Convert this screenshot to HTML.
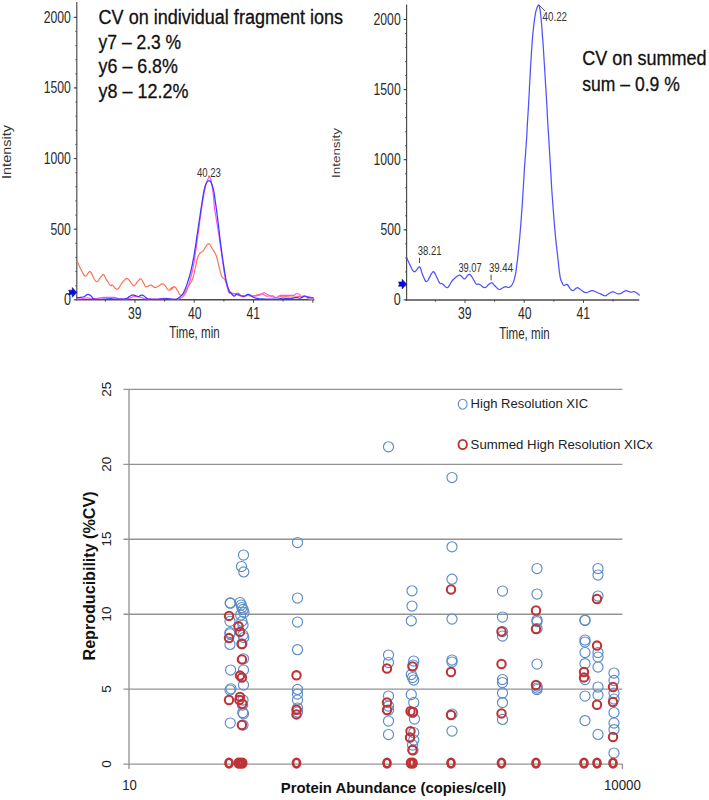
<!DOCTYPE html>
<html><head><meta charset="utf-8"><title>Chart</title>
<style>html,body{margin:0;padding:0;background:#fff;}body{width:709px;height:800px;overflow:hidden;font-family:"Liberation Sans",sans-serif;}svg{display:block;}</style>
</head><body>
<svg width="709" height="800" viewBox="0 0 709 800" font-family="Liberation Sans, sans-serif">
<rect width="709" height="800" fill="#fff"/>
<line x1="76.8" y1="2" x2="76.8" y2="300.6" stroke="#484848" stroke-width="1.15"/>
<line x1="76.3" y1="299.8" x2="314.3" y2="299.8" stroke="#4c4c4c" stroke-width="1.5"/>
<line x1="73.8" y1="299.8" x2="76.8" y2="299.8" stroke="#3a3a3a" stroke-width="1"/>
<text x="70.89999999999999" y="305.3" font-size="15.6" text-anchor="end" font-weight="normal" fill="#2a2a2a" textLength="7.0" lengthAdjust="spacingAndGlyphs" >0</text>
<line x1="73.8" y1="229.2" x2="76.8" y2="229.2" stroke="#3a3a3a" stroke-width="1"/>
<text x="70.89999999999999" y="234.7" font-size="15.6" text-anchor="end" font-weight="normal" fill="#2a2a2a" textLength="20.3" lengthAdjust="spacingAndGlyphs" >500</text>
<line x1="73.8" y1="158.6" x2="76.8" y2="158.6" stroke="#3a3a3a" stroke-width="1"/>
<text x="70.89999999999999" y="164.1" font-size="15.6" text-anchor="end" font-weight="normal" fill="#2a2a2a" textLength="27.2" lengthAdjust="spacingAndGlyphs" >1000</text>
<line x1="73.8" y1="87.9" x2="76.8" y2="87.9" stroke="#3a3a3a" stroke-width="1"/>
<text x="70.89999999999999" y="93.4" font-size="15.6" text-anchor="end" font-weight="normal" fill="#2a2a2a" textLength="27.2" lengthAdjust="spacingAndGlyphs" >1500</text>
<line x1="73.8" y1="17.3" x2="76.8" y2="17.3" stroke="#3a3a3a" stroke-width="1"/>
<text x="70.89999999999999" y="22.8" font-size="15.6" text-anchor="end" font-weight="normal" fill="#2a2a2a" textLength="27.2" lengthAdjust="spacingAndGlyphs" >2000</text>
<line x1="75.3" y1="299.8" x2="76.8" y2="299.8" stroke="#3a3a3a" stroke-width="0.8"/>
<line x1="75.3" y1="285.7" x2="76.8" y2="285.7" stroke="#3a3a3a" stroke-width="0.8"/>
<line x1="75.3" y1="271.6" x2="76.8" y2="271.6" stroke="#3a3a3a" stroke-width="0.8"/>
<line x1="75.3" y1="257.4" x2="76.8" y2="257.4" stroke="#3a3a3a" stroke-width="0.8"/>
<line x1="75.3" y1="243.3" x2="76.8" y2="243.3" stroke="#3a3a3a" stroke-width="0.8"/>
<line x1="75.3" y1="229.2" x2="76.8" y2="229.2" stroke="#3a3a3a" stroke-width="0.8"/>
<line x1="75.3" y1="215.1" x2="76.8" y2="215.1" stroke="#3a3a3a" stroke-width="0.8"/>
<line x1="75.3" y1="200.9" x2="76.8" y2="200.9" stroke="#3a3a3a" stroke-width="0.8"/>
<line x1="75.3" y1="186.8" x2="76.8" y2="186.8" stroke="#3a3a3a" stroke-width="0.8"/>
<line x1="75.3" y1="172.7" x2="76.8" y2="172.7" stroke="#3a3a3a" stroke-width="0.8"/>
<line x1="75.3" y1="158.6" x2="76.8" y2="158.6" stroke="#3a3a3a" stroke-width="0.8"/>
<line x1="75.3" y1="144.4" x2="76.8" y2="144.4" stroke="#3a3a3a" stroke-width="0.8"/>
<line x1="75.3" y1="130.3" x2="76.8" y2="130.3" stroke="#3a3a3a" stroke-width="0.8"/>
<line x1="75.3" y1="116.2" x2="76.8" y2="116.2" stroke="#3a3a3a" stroke-width="0.8"/>
<line x1="75.3" y1="102.1" x2="76.8" y2="102.1" stroke="#3a3a3a" stroke-width="0.8"/>
<line x1="75.3" y1="87.9" x2="76.8" y2="87.9" stroke="#3a3a3a" stroke-width="0.8"/>
<line x1="75.3" y1="73.8" x2="76.8" y2="73.8" stroke="#3a3a3a" stroke-width="0.8"/>
<line x1="75.3" y1="59.7" x2="76.8" y2="59.7" stroke="#3a3a3a" stroke-width="0.8"/>
<line x1="75.3" y1="45.6" x2="76.8" y2="45.6" stroke="#3a3a3a" stroke-width="0.8"/>
<line x1="75.3" y1="31.4" x2="76.8" y2="31.4" stroke="#3a3a3a" stroke-width="0.8"/>
<line x1="75.3" y1="17.3" x2="76.8" y2="17.3" stroke="#3a3a3a" stroke-width="0.8"/>
<line x1="105.4" y1="299.8" x2="105.4" y2="301.6" stroke="#3a3a3a" stroke-width="0.9"/>
<line x1="135.0" y1="299.8" x2="135.0" y2="302.8" stroke="#3a3a3a" stroke-width="0.9"/>
<line x1="164.6" y1="299.8" x2="164.6" y2="301.6" stroke="#3a3a3a" stroke-width="0.9"/>
<line x1="194.2" y1="299.8" x2="194.2" y2="302.8" stroke="#3a3a3a" stroke-width="0.9"/>
<line x1="223.9" y1="299.8" x2="223.9" y2="301.6" stroke="#3a3a3a" stroke-width="0.9"/>
<line x1="253.5" y1="299.8" x2="253.5" y2="302.8" stroke="#3a3a3a" stroke-width="0.9"/>
<line x1="283.1" y1="299.8" x2="283.1" y2="301.6" stroke="#3a3a3a" stroke-width="0.9"/>
<line x1="312.8" y1="299.8" x2="312.8" y2="302.8" stroke="#3a3a3a" stroke-width="0.9"/>
<text x="134.8" y="318.5" font-size="16" text-anchor="middle" font-weight="normal" fill="#2a2a2a" textLength="13.6" lengthAdjust="spacingAndGlyphs" >39</text>
<text x="194.8" y="318.5" font-size="16" text-anchor="middle" font-weight="normal" fill="#2a2a2a" textLength="13.6" lengthAdjust="spacingAndGlyphs" >40</text>
<text x="253.3" y="318.5" font-size="16" text-anchor="middle" font-weight="normal" fill="#2a2a2a" textLength="13.6" lengthAdjust="spacingAndGlyphs" >41</text>
<line x1="406.6" y1="4.5" x2="406.6" y2="300.7" stroke="#484848" stroke-width="1.15"/>
<line x1="406.1" y1="299.9" x2="639.3" y2="299.9" stroke="#4c4c4c" stroke-width="1.5"/>
<line x1="403.6" y1="299.9" x2="406.6" y2="299.9" stroke="#3a3a3a" stroke-width="1"/>
<text x="400.70000000000005" y="305.4" font-size="15.6" text-anchor="end" font-weight="normal" fill="#2a2a2a" textLength="7.0" lengthAdjust="spacingAndGlyphs" >0</text>
<line x1="403.6" y1="229.8" x2="406.6" y2="229.8" stroke="#3a3a3a" stroke-width="1"/>
<text x="400.70000000000005" y="235.3" font-size="15.6" text-anchor="end" font-weight="normal" fill="#2a2a2a" textLength="20.3" lengthAdjust="spacingAndGlyphs" >500</text>
<line x1="403.6" y1="159.7" x2="406.6" y2="159.7" stroke="#3a3a3a" stroke-width="1"/>
<text x="400.70000000000005" y="165.2" font-size="15.6" text-anchor="end" font-weight="normal" fill="#2a2a2a" textLength="27.2" lengthAdjust="spacingAndGlyphs" >1000</text>
<line x1="403.6" y1="89.6" x2="406.6" y2="89.6" stroke="#3a3a3a" stroke-width="1"/>
<text x="400.70000000000005" y="95.1" font-size="15.6" text-anchor="end" font-weight="normal" fill="#2a2a2a" textLength="27.2" lengthAdjust="spacingAndGlyphs" >1500</text>
<line x1="403.6" y1="19.5" x2="406.6" y2="19.5" stroke="#3a3a3a" stroke-width="1"/>
<text x="400.70000000000005" y="25.0" font-size="15.6" text-anchor="end" font-weight="normal" fill="#2a2a2a" textLength="27.2" lengthAdjust="spacingAndGlyphs" >2000</text>
<line x1="405.1" y1="299.9" x2="406.6" y2="299.9" stroke="#3a3a3a" stroke-width="0.8"/>
<line x1="405.1" y1="285.9" x2="406.6" y2="285.9" stroke="#3a3a3a" stroke-width="0.8"/>
<line x1="405.1" y1="271.9" x2="406.6" y2="271.9" stroke="#3a3a3a" stroke-width="0.8"/>
<line x1="405.1" y1="257.8" x2="406.6" y2="257.8" stroke="#3a3a3a" stroke-width="0.8"/>
<line x1="405.1" y1="243.8" x2="406.6" y2="243.8" stroke="#3a3a3a" stroke-width="0.8"/>
<line x1="405.1" y1="229.8" x2="406.6" y2="229.8" stroke="#3a3a3a" stroke-width="0.8"/>
<line x1="405.1" y1="215.8" x2="406.6" y2="215.8" stroke="#3a3a3a" stroke-width="0.8"/>
<line x1="405.1" y1="201.8" x2="406.6" y2="201.8" stroke="#3a3a3a" stroke-width="0.8"/>
<line x1="405.1" y1="187.7" x2="406.6" y2="187.7" stroke="#3a3a3a" stroke-width="0.8"/>
<line x1="405.1" y1="173.7" x2="406.6" y2="173.7" stroke="#3a3a3a" stroke-width="0.8"/>
<line x1="405.1" y1="159.7" x2="406.6" y2="159.7" stroke="#3a3a3a" stroke-width="0.8"/>
<line x1="405.1" y1="145.7" x2="406.6" y2="145.7" stroke="#3a3a3a" stroke-width="0.8"/>
<line x1="405.1" y1="131.7" x2="406.6" y2="131.7" stroke="#3a3a3a" stroke-width="0.8"/>
<line x1="405.1" y1="117.6" x2="406.6" y2="117.6" stroke="#3a3a3a" stroke-width="0.8"/>
<line x1="405.1" y1="103.6" x2="406.6" y2="103.6" stroke="#3a3a3a" stroke-width="0.8"/>
<line x1="405.1" y1="89.6" x2="406.6" y2="89.6" stroke="#3a3a3a" stroke-width="0.8"/>
<line x1="405.1" y1="75.6" x2="406.6" y2="75.6" stroke="#3a3a3a" stroke-width="0.8"/>
<line x1="405.1" y1="61.6" x2="406.6" y2="61.6" stroke="#3a3a3a" stroke-width="0.8"/>
<line x1="405.1" y1="47.5" x2="406.6" y2="47.5" stroke="#3a3a3a" stroke-width="0.8"/>
<line x1="405.1" y1="33.5" x2="406.6" y2="33.5" stroke="#3a3a3a" stroke-width="0.8"/>
<line x1="405.1" y1="19.5" x2="406.6" y2="19.5" stroke="#3a3a3a" stroke-width="0.8"/>
<line x1="435.4" y1="299.9" x2="435.4" y2="301.7" stroke="#3a3a3a" stroke-width="0.9"/>
<line x1="465.0" y1="299.9" x2="465.0" y2="302.9" stroke="#3a3a3a" stroke-width="0.9"/>
<line x1="494.6" y1="299.9" x2="494.6" y2="301.7" stroke="#3a3a3a" stroke-width="0.9"/>
<line x1="524.2" y1="299.9" x2="524.2" y2="302.9" stroke="#3a3a3a" stroke-width="0.9"/>
<line x1="553.9" y1="299.9" x2="553.9" y2="301.7" stroke="#3a3a3a" stroke-width="0.9"/>
<line x1="583.5" y1="299.9" x2="583.5" y2="302.9" stroke="#3a3a3a" stroke-width="0.9"/>
<line x1="613.1" y1="299.9" x2="613.1" y2="301.7" stroke="#3a3a3a" stroke-width="0.9"/>
<text x="464.8" y="318.59999999999997" font-size="16" text-anchor="middle" font-weight="normal" fill="#2a2a2a" textLength="13.6" lengthAdjust="spacingAndGlyphs" >39</text>
<text x="524.8" y="318.59999999999997" font-size="16" text-anchor="middle" font-weight="normal" fill="#2a2a2a" textLength="13.6" lengthAdjust="spacingAndGlyphs" >40</text>
<text x="583.3" y="318.59999999999997" font-size="16" text-anchor="middle" font-weight="normal" fill="#2a2a2a" textLength="13.6" lengthAdjust="spacingAndGlyphs" >41</text>
<text transform="translate(11,152) rotate(-90)" font-size="12" text-anchor="middle" textLength="54" lengthAdjust="spacingAndGlyphs" fill="#383838">Intensity</text>
<text transform="translate(340.4,153) rotate(-90)" font-size="11.6" text-anchor="middle" textLength="50" lengthAdjust="spacingAndGlyphs" fill="#383838">Intensity</text>
<text x="194.5" y="338.1" font-size="16" text-anchor="middle" font-weight="normal" fill="#2a2a2a" textLength="50.3" lengthAdjust="spacingAndGlyphs" >Time, min</text>
<text x="524.5" y="338.6" font-size="16" text-anchor="middle" font-weight="normal" fill="#2a2a2a" textLength="50.3" lengthAdjust="spacingAndGlyphs" >Time, min</text>
<polyline points="77.1,261.0 77.6,262.2 78.4,263.9 79.2,265.8 80.1,267.7 81.0,269.5 81.8,271.1 82.6,272.8 83.5,274.4 84.3,275.6 85.2,276.2 86.2,275.8 87.1,274.6 88.1,273.1 89.1,271.9 90.0,271.5 90.8,272.1 91.6,273.4 92.3,275.0 93.0,276.6 93.7,277.9 94.3,279.0 94.9,280.0 95.5,280.9 96.1,281.6 96.7,281.8 97.4,281.5 98.1,280.8 98.8,279.8 99.4,278.8 100.1,277.9 100.8,277.1 101.5,276.1 102.2,275.3 102.9,274.7 103.5,274.5 104.1,275.0 104.6,275.9 105.2,277.1 105.7,278.4 106.4,279.6 107.2,280.9 108.1,282.2 109.0,283.6 109.9,284.8 110.6,285.5 111.1,285.8 111.3,285.6 111.5,285.2 111.8,284.9 112.3,285.0 113.1,285.8 114.1,286.9 115.2,288.2 116.3,289.1 117.4,289.3 118.4,288.5 119.5,287.1 120.5,285.3 121.5,283.5 122.5,282.2 123.4,281.1 124.3,280.1 125.1,279.3 125.9,278.7 126.7,278.4 127.4,278.6 128.1,279.0 128.7,279.7 129.4,280.5 130.1,281.3 130.8,282.3 131.6,283.5 132.4,284.6 133.2,285.5 134.0,285.9 134.7,285.5 135.5,284.6 136.3,283.4 137.0,282.2 137.7,281.3 138.4,280.6 139.0,279.8 139.6,279.2 140.2,278.8 140.8,278.8 141.3,279.2 141.9,280.0 142.5,281.0 143.1,282.1 143.6,283.0 144.1,283.9 144.6,284.9 145.0,285.8 145.5,286.5 146.2,286.9 147.0,286.8 147.9,286.4 148.9,285.7 149.9,285.2 150.9,285.0 151.8,285.4 152.6,286.0 153.5,286.8 154.4,287.4 155.5,287.6 156.7,287.1 158.2,286.2 159.7,285.2 161.1,284.3 162.2,283.9 163.1,283.9 163.8,284.4 164.4,285.0 165.0,285.7 165.6,286.4 166.3,287.2 166.9,288.2 167.5,289.2 168.2,289.9 169.0,290.3 170.1,290.0 171.4,289.2 172.6,288.2 173.6,287.3 174.1,286.9 173.7,287.1 172.7,287.7 171.5,288.4 170.4,289.0 170.0,289.3 170.3,289.0 171.2,288.3 172.3,287.4 173.4,286.8 174.4,286.7 175.1,287.1 175.9,287.9 176.6,289.0 177.2,290.1 177.9,291.0 178.4,292.0 178.9,293.1 179.4,294.1 179.9,294.9 180.5,295.4 181.1,295.5 181.8,295.4 182.6,295.0 183.3,294.4 184.0,293.7 184.7,292.7 185.4,291.6 186.0,290.3 186.7,288.9 187.5,287.5 188.4,286.2 189.3,284.9 190.2,283.5 191.1,282.1 191.9,280.5 192.5,279.0 193.1,277.3 193.5,275.6 194.0,273.8 194.5,271.8 195.0,269.5 195.6,266.8 196.1,264.2 196.6,261.6 197.1,259.5 197.6,257.9 198.1,256.5 198.6,255.3 199.2,254.3 199.8,253.4 200.4,252.7 201.1,252.2 201.9,251.8 202.6,251.4 203.3,250.8 203.8,250.0 204.4,249.1 204.9,248.1 205.4,247.2 205.9,246.4 206.5,245.7 207.0,244.9 207.6,244.2 208.3,243.8 208.9,243.8 209.5,244.1 210.1,244.9 210.7,245.8 211.3,246.9 212.0,248.2 212.8,249.5 213.8,250.9 214.7,252.5 215.6,254.2 216.4,256.0 217.0,258.0 217.6,260.1 218.0,262.3 218.5,264.4 219.0,266.5 219.5,268.6 220.1,270.8 220.6,272.9 221.1,274.7 221.6,276.2 222.2,277.1 222.7,277.6 223.2,277.9 223.7,278.2 224.3,278.8 224.8,279.6 225.3,280.6 225.8,281.7 226.4,282.8 226.9,284.0 227.4,285.4 227.8,286.9 228.3,288.5 228.9,289.9 229.5,291.0 230.3,291.9 231.2,292.6 232.2,293.1 233.2,293.4 234.1,293.7 235.0,293.7 235.8,293.6 236.7,293.3 237.5,293.2 238.3,293.3 239.2,293.8 240.0,294.6 240.9,295.5 241.7,296.3 242.6,296.8 243.4,296.8 244.2,296.6 245.0,296.2 245.9,295.9 246.8,295.7 247.8,295.7 249.0,295.8 250.1,296.0 251.3,296.1 252.4,296.1 253.6,295.9 254.8,295.6 255.9,295.3 257.0,294.9 258.1,294.7 259.0,294.5 259.9,294.2 260.7,294.0 261.5,293.9 262.3,294.0 263.1,294.3 263.9,294.7 264.8,295.3 265.6,295.8 266.5,296.1 267.6,296.1 268.8,296.0 270.0,295.8 271.1,295.7 272.2,295.7 273.1,295.9 273.9,296.4 274.7,296.9 275.5,297.3 276.4,297.5 277.5,297.4 278.6,297.1 279.7,296.7 280.9,296.3 282.1,296.1 283.2,296.1 284.3,296.2 285.4,296.4 286.6,296.7 287.7,296.8 288.8,296.9 290.0,297.0 291.1,297.0 292.2,297.1 293.3,297.1 294.5,297.0 295.6,296.9 296.7,296.8 297.9,296.6 299.0,296.5 300.1,296.4 301.3,296.2 302.5,296.0 303.6,296.0 304.6,296.1 305.6,296.5 306.4,297.1 307.2,297.8 308.0,298.5 308.9,298.9 309.8,299.2 310.8,299.3 311.7,299.3 312.5,299.3 313.1,299.3" fill="none" stroke="#ff6e50" stroke-width="1.15" stroke-linejoin="round" stroke-linecap="round" />
<polyline points="77.1,299.1 77.7,299.0 78.6,298.9 79.7,298.8 80.8,298.7 81.8,298.6 82.8,298.4 83.9,298.3 84.9,298.1 85.9,298.0 86.9,297.9 87.9,298.0 89.0,298.1 90.0,298.3 91.0,298.5 92.0,298.6 93.0,298.6 94.0,298.5 94.9,298.5 96.0,298.4 97.1,298.2 98.3,298.1 99.5,297.9 100.8,297.7 102.3,297.5 103.9,297.4 105.7,297.3 107.9,297.3 110.1,297.3 112.2,297.3 114.0,297.4 115.3,297.6 116.2,297.9 117.1,298.2 117.9,298.5 119.1,298.7 120.6,298.9 122.3,299.0 124.1,299.0 125.9,298.9 127.5,298.7 129.0,298.4 130.4,297.9 131.7,297.3 133.0,296.8 134.3,296.5 135.7,296.5 137.2,296.6 138.6,296.9 140.0,297.2 141.1,297.4 141.9,297.6 142.4,297.9 142.8,298.1 143.4,298.4 144.5,298.6 146.1,298.7 148.1,298.9 150.2,299.0 152.5,299.1 154.6,299.1 156.7,299.0 158.9,298.8 161.0,298.5 163.0,298.3 164.8,298.2 166.4,298.3 167.7,298.5 169.0,298.7 170.2,299.0 171.6,299.1 173.0,299.2 174.5,299.3 176.0,299.3 177.4,299.2 178.8,298.9 180.0,298.5 181.1,297.9 182.1,297.2 183.1,296.4 184.0,295.4 184.8,294.3 185.5,293.1 186.2,291.7 186.8,290.2 187.5,288.4 188.2,286.4 188.9,284.2 189.7,281.9 190.4,279.4 191.0,277.0 191.6,274.7 192.1,272.4 192.6,270.1 193.1,267.6 193.6,264.8 194.2,261.6 194.7,258.2 195.2,254.7 195.7,251.0 196.3,247.3 196.8,243.5 197.3,239.7 197.8,235.8 198.4,231.9 198.9,228.0 199.4,224.1 199.9,220.1 200.5,216.2 201.0,212.4 201.5,208.8 202.0,205.3 202.6,202.0 203.1,198.8 203.6,195.8 204.1,193.0 204.7,190.3 205.2,187.8 205.7,185.5 206.2,183.4 206.8,181.6 207.3,180.2 207.9,179.0 208.4,178.1 208.9,177.5 209.4,177.3 209.8,177.3 210.2,177.8 210.5,178.5 210.8,179.5 211.1,180.8 211.5,182.3 211.8,184.1 212.2,186.2 212.5,188.6 212.9,191.3 213.2,194.4 213.6,197.9 213.9,201.7 214.3,205.4 214.6,208.8 215.1,211.8 215.5,214.5 216.0,217.2 216.4,219.9 216.9,222.8 217.4,225.8 217.9,228.9 218.4,232.1 218.9,235.3 219.4,238.5 219.8,241.7 220.3,244.8 220.7,248.0 221.2,251.1 221.6,254.3 222.1,257.5 222.6,260.7 223.0,264.0 223.5,267.1 223.9,270.0 224.3,272.7 224.7,275.3 225.1,277.7 225.6,280.1 226.0,282.3 226.5,284.5 227.0,286.7 227.6,288.8 228.1,290.6 228.6,291.9 229.1,292.7 229.6,293.1 230.1,293.2 230.7,293.2 231.3,293.3 232.0,293.5 232.9,293.7 233.7,293.9 234.6,294.0 235.5,294.3 236.4,294.5 237.2,294.8 238.1,295.2 238.9,295.4 239.7,295.7 240.6,295.8 241.4,296.0 242.3,296.1 243.1,296.1 244.0,296.1 244.8,296.0 245.6,295.7 246.4,295.4 247.3,295.2 248.2,295.1 249.2,295.2 250.4,295.5 251.5,295.7 252.7,296.0 253.9,296.1 255.0,296.0 256.2,295.9 257.3,295.7 258.5,295.4 259.5,295.1 260.4,294.7 261.3,294.1 262.1,293.5 262.9,293.1 263.7,292.8 264.6,292.9 265.4,293.3 266.3,293.7 267.1,294.2 268.0,294.7 268.8,295.1 269.6,295.6 270.5,296.0 271.3,296.5 272.2,296.8 273.0,297.1 273.9,297.3 274.7,297.5 275.6,297.6 276.4,297.5 277.1,297.2 277.7,296.8 278.3,296.2 279.3,295.7 280.6,295.4 282.8,295.3 285.6,295.3 288.6,295.4 291.3,295.4 293.3,295.4 294.4,295.2 294.9,294.9 295.0,294.5 295.1,294.2 295.5,294.0 296.1,293.8 296.8,293.7 297.6,293.7 298.3,293.8 299.0,294.0 299.5,294.4 299.9,295.1 300.2,295.8 300.6,296.4 301.1,296.8 301.7,296.9 302.4,296.9 303.1,296.7 303.9,296.6 304.6,296.5 305.4,296.5 306.2,296.5 307.1,296.6 308.0,296.7 308.9,296.8 309.9,297.0 311.0,297.3 312.1,297.7 313.1,298.0 313.8,298.2" fill="none" stroke="#ff4cff" stroke-width="1.15" stroke-linejoin="round" stroke-linecap="round" />
<polyline points="77.1,297.7 77.5,297.7 78.1,297.6 78.7,297.6 79.4,297.5 80.2,297.4 80.9,297.3 81.8,297.2 82.7,297.0 83.6,296.8 84.4,296.5 85.1,296.1 85.8,295.6 86.5,295.0 87.1,294.6 87.8,294.3 88.4,294.4 89.1,294.7 89.8,295.1 90.5,295.6 91.2,296.0 91.7,296.6 92.2,297.3 92.8,298.0 93.5,298.6 94.5,299.1 96.1,299.3 98.0,299.3 100.0,299.3 102.1,299.2 103.9,299.1 105.4,299.0 106.7,298.9 108.0,298.9 109.3,298.8 110.6,298.7 111.9,298.8 113.2,298.9 114.6,299.0 115.9,299.1 117.4,299.1 119.1,299.1 120.9,299.1 122.8,299.0 124.5,298.9 125.9,298.7 126.9,298.4 127.6,298.0 128.1,297.5 128.6,297.0 129.2,296.5 129.9,296.2 130.6,295.8 131.2,295.4 131.9,295.2 132.6,295.0 133.5,295.1 134.4,295.3 135.3,295.5 136.2,295.8 136.9,296.0 137.3,296.2 137.6,296.4 137.9,296.5 138.1,296.6 138.6,296.5 139.1,296.3 139.8,295.9 140.5,295.5 141.2,295.1 141.9,295.0 142.6,295.2 143.3,295.6 144.0,296.1 144.6,296.6 145.3,297.1 145.9,297.5 146.4,298.0 146.9,298.4 147.7,298.8 148.7,299.1 150.2,299.2 152.0,299.3 154.1,299.3 156.1,299.3 158.0,299.3 159.8,299.2 161.5,299.1 163.3,298.9 164.9,298.8 166.5,298.7 168.0,298.8 169.5,298.9 170.8,299.1 172.1,299.2 173.2,299.3 174.2,299.3 174.9,299.4 175.5,299.4 176.2,299.3 177.0,298.9 178.0,298.3 179.1,297.6 180.2,296.7 181.3,295.6 182.3,294.5 183.1,293.4 183.8,292.1 184.4,290.7 185.1,289.2 185.8,287.5 186.5,285.7 187.2,283.6 187.9,281.4 188.6,279.2 189.3,277.0 189.8,275.0 190.4,273.0 190.9,271.0 191.4,268.9 191.9,266.5 192.4,264.0 192.9,261.4 193.5,258.5 194.0,255.6 194.5,252.5 195.0,249.3 195.6,245.8 196.1,242.2 196.6,238.6 197.1,235.0 197.7,231.5 198.2,228.0 198.7,224.5 199.2,221.0 199.8,217.5 200.3,213.9 200.8,210.3 201.4,206.6 201.9,203.2 202.4,200.0 202.9,197.1 203.3,194.4 203.8,191.9 204.2,189.7 204.7,187.8 205.1,186.2 205.5,185.0 205.9,184.0 206.3,183.2 206.8,182.5 207.2,181.9 207.7,181.4 208.1,181.0 208.6,180.8 209.0,180.8 209.5,180.8 209.9,180.9 210.3,181.1 210.7,181.7 211.1,182.5 211.6,183.7 212.2,185.3 212.7,187.0 213.3,189.1 213.8,191.3 214.2,193.7 214.6,196.3 215.0,199.2 215.4,202.2 215.9,205.3 216.3,208.5 216.8,211.9 217.2,215.5 217.7,219.1 218.1,222.8 218.6,226.6 219.1,230.5 219.5,234.5 220.0,238.4 220.4,242.0 220.8,245.4 221.3,248.7 221.7,251.8 222.1,254.8 222.5,257.8 222.9,260.7 223.3,263.6 223.8,266.4 224.2,269.1 224.6,271.8 225.1,274.4 225.5,277.0 225.9,279.5 226.4,281.9 226.9,284.0 227.4,286.0 228.0,287.9 228.6,289.5 229.1,290.9 229.5,291.9 229.8,292.5 229.9,292.6 230.1,292.4 230.2,292.4 230.6,292.6 231.1,293.2 231.8,294.0 232.6,295.0 233.4,295.7 234.1,296.1 234.7,296.0 235.2,295.5 235.7,294.8 236.3,294.2 236.9,294.0 237.7,294.1 238.6,294.5 239.4,295.0 240.3,295.5 241.2,295.8 241.9,296.0 242.6,296.1 243.3,296.2 244.0,296.2 244.7,296.1 245.4,295.8 246.1,295.3 246.8,294.8 247.5,294.4 248.2,294.3 248.9,294.4 249.6,294.7 250.3,295.2 251.0,295.7 251.7,296.1 252.4,296.5 253.0,296.9 253.6,297.3 254.3,297.6 255.3,297.9 256.3,298.2 257.5,298.4 258.8,298.6 260.4,298.8 262.3,298.9 264.8,299.0 267.9,299.1 271.0,299.2 274.0,299.2 276.4,299.2 278.0,299.1 279.1,298.8 280.0,298.6 280.9,298.3 282.1,298.2 283.6,298.2 285.4,298.3 287.2,298.4 289.0,298.5 290.5,298.5 291.9,298.3 293.0,298.1 294.1,297.8 295.2,297.6 296.2,297.5 297.1,297.6 298.0,297.8 298.8,298.0 299.6,298.2 300.4,298.2 301.2,297.9 302.1,297.4 302.9,296.8 303.8,296.3 304.6,296.1 305.5,296.2 306.3,296.5 307.2,296.8 308.0,297.2 308.9,297.5 309.8,297.7 310.8,297.8 311.7,297.8 312.5,297.9 313.1,297.9" fill="none" stroke="#3a3aff" stroke-width="1.25" stroke-linejoin="round" stroke-linecap="round" />
<text x="208.9" y="177.4" font-size="12.2" text-anchor="middle" font-weight="normal" fill="#333" textLength="24" lengthAdjust="spacingAndGlyphs" >40.23</text>
<path d="M68.7,290.2 h3.6 v-2.7 l4.4,4.9 l-4.4,4.9 v-2.7 h-3.6 l0.9,-2.2 z" fill="#0808f4" stroke="#000050" stroke-width="0.5"/>
<path d="M398.5,281.90000000000003 h3.6 v-2.7 l4.4,4.9 l-4.4,4.9 v-2.7 h-3.6 l0.9,-2.2 z" fill="#0808f4" stroke="#000050" stroke-width="0.5"/>
<polyline points="406.8,257.8 407.2,258.8 407.8,260.3 408.6,262.1 409.4,263.8 410.2,265.4 410.9,266.9 411.7,268.6 412.6,270.1 413.5,271.3 414.4,271.8 415.4,271.4 416.5,270.1 417.6,268.5 418.6,267.2 419.5,266.7 420.1,267.2 420.6,268.4 421.0,269.8 421.5,271.5 422.0,273.0 422.6,274.6 423.3,276.5 424.1,278.3 424.8,279.9 425.4,281.0 425.9,281.5 426.4,281.6 426.9,281.4 427.4,280.9 427.9,280.3 428.6,279.3 429.3,277.9 430.0,276.4 430.7,274.9 431.3,273.9 431.9,273.1 432.4,272.4 432.9,271.9 433.4,271.7 433.9,271.8 434.3,272.3 434.8,273.1 435.3,274.1 435.8,275.2 436.4,276.4 437.0,277.7 437.7,279.2 438.4,280.8 439.1,282.2 439.8,283.2 440.3,283.6 440.7,283.6 441.2,283.5 441.7,283.4 442.3,283.7 443.2,284.4 444.2,285.5 445.3,286.7 446.4,287.5 447.4,287.7 448.3,287.1 449.1,285.9 450.0,284.3 450.8,282.8 451.6,281.5 452.5,280.5 453.3,279.5 454.2,278.7 455.0,277.9 455.9,277.2 456.7,276.6 457.5,276.0 458.4,275.5 459.2,275.2 460.1,275.2 460.9,275.7 461.8,276.6 462.7,277.7 463.5,278.6 464.3,278.9 465.1,278.6 465.8,277.8 466.5,276.8 467.1,275.9 467.7,275.2 468.3,274.8 468.7,274.5 469.2,274.3 469.7,274.4 470.2,274.7 470.9,275.4 471.6,276.4 472.3,277.5 473.0,278.7 473.6,279.8 474.2,280.7 474.7,281.7 475.1,282.6 475.6,283.4 476.2,284.0 476.8,284.3 477.4,284.3 478.0,284.2 478.8,284.1 479.6,284.3 480.5,284.9 481.5,285.8 482.6,286.7 483.6,287.4 484.6,287.7 485.6,287.5 486.4,286.8 487.3,285.9 488.1,285.0 488.9,284.3 489.6,283.9 490.2,283.4 490.8,283.0 491.3,282.8 491.9,282.8 492.5,283.1 493.0,283.6 493.5,284.3 494.1,285.0 494.8,285.7 495.6,286.5 496.4,287.4 497.3,288.3 498.2,289.0 499.0,289.4 499.7,289.5 500.4,289.3 501.0,288.9 501.6,288.5 502.2,288.1 502.9,287.8 503.5,287.4 504.2,287.1 504.9,286.8 505.6,286.7 506.3,286.8 507.0,287.0 507.6,287.3 508.3,287.5 509.0,287.4 509.7,287.1 510.4,286.6 511.1,286.0 511.8,285.1 512.4,284.0 513.0,282.8 513.6,281.4 514.2,279.7 514.7,277.7 515.3,275.1 515.9,271.9 516.4,268.2 516.9,264.1 517.5,259.6 518.0,254.8 518.5,249.6 519.1,243.9 519.7,237.9 520.2,231.7 520.7,225.6 521.2,219.4 521.6,213.1 522.1,206.7 522.5,200.4 522.9,194.2 523.3,188.1 523.6,182.1 524.0,176.2 524.3,170.4 524.7,164.9 525.1,159.6 525.5,154.5 525.8,149.5 526.2,144.8 526.5,140.2 526.8,135.8 527.0,131.5 527.2,127.4 527.4,123.6 527.6,120.0 527.8,116.9 528.0,114.3 528.1,111.9 528.3,109.1 528.5,105.7 528.7,101.5 529.0,96.7 529.3,91.5 529.5,86.3 529.8,81.3 530.1,76.4 530.3,71.5 530.6,66.7 530.9,61.8 531.2,56.9 531.5,51.9 531.9,46.7 532.2,41.7 532.6,36.9 533.0,32.5 533.4,28.6 533.8,25.0 534.2,21.8 534.6,18.8 535.0,16.3 535.3,14.2 535.6,12.5 535.9,11.2 536.3,10.0 536.6,8.9 537.0,7.8 537.4,6.7 537.9,5.8 538.3,5.2 538.7,5.2 539.1,5.6 539.4,6.4 539.7,7.6 540.0,9.3 540.3,11.4 540.6,14.2 541.0,17.5 541.3,21.2 541.7,25.2 542.0,29.3 542.3,33.5 542.6,37.9 543.0,42.5 543.3,47.2 543.6,52.0 543.9,57.0 544.2,62.2 544.6,67.4 544.9,72.7 545.2,78.0 545.5,83.4 545.9,88.9 546.2,94.3 546.5,99.4 546.8,104.0 547.0,107.6 547.1,110.5 547.2,113.1 547.4,116.1 547.6,120.0 547.9,124.7 548.2,130.0 548.6,135.7 549.0,142.1 549.4,149.2 549.9,157.3 550.4,166.4 551.0,175.9 551.5,185.4 552.1,194.2 552.7,202.5 553.3,210.5 553.9,218.3 554.5,225.6 555.1,232.4 555.7,238.6 556.3,244.4 556.9,249.7 557.5,254.7 558.0,259.3 558.5,263.7 558.9,267.7 559.3,271.4 559.8,274.6 560.2,277.3 560.7,279.3 561.1,280.8 561.6,281.8 562.1,282.6 562.5,283.4 562.8,284.1 563.1,284.6 563.4,285.0 563.7,285.2 564.0,285.4 564.6,285.3 565.2,285.0 565.9,284.7 566.6,284.4 567.2,284.4 567.7,284.8 568.1,285.4 568.5,286.1 569.0,286.9 569.5,287.5 570.0,288.3 570.6,289.1 571.2,289.8 571.9,290.4 572.6,290.7 573.4,290.4 574.4,289.7 575.4,288.8 576.3,288.1 577.2,287.7 578.1,287.8 578.8,288.2 579.5,288.8 580.3,289.5 581.1,290.0 582.0,290.6 582.8,291.3 583.8,291.9 584.7,292.4 585.8,292.7 587.0,292.5 588.3,292.0 589.6,291.4 590.9,290.9 592.0,290.7 592.9,290.7 593.7,290.9 594.4,291.2 595.1,291.5 595.9,291.9 596.7,292.2 597.7,292.7 598.6,293.1 599.6,293.5 600.5,293.9 601.5,294.4 602.4,294.9 603.4,295.3 604.3,295.7 605.2,295.8 606.0,295.6 606.8,295.1 607.6,294.5 608.3,293.9 609.0,293.4 609.7,293.1 610.4,292.7 611.0,292.3 611.6,292.1 612.1,291.9 612.7,291.8 613.1,291.8 613.5,291.9 614.0,292.0 614.5,292.2 615.0,292.5 615.7,292.8 616.3,293.2 616.9,293.5 617.6,293.8 618.2,293.8 618.8,293.9 619.4,293.8 620.0,293.7 620.7,293.4 621.4,293.1 622.3,292.6 623.1,292.0 623.9,291.5 624.6,291.1 625.1,290.9 625.5,290.8 625.9,290.7 626.3,290.7 626.9,290.8 627.6,291.0 628.4,291.3 629.2,291.7 630.0,292.0 630.8,292.2 631.4,292.2 632.1,292.0 632.7,291.8 633.3,291.6 633.9,291.6 634.5,291.7 635.1,292.0 635.8,292.4 636.4,292.8 637.0,293.1 637.5,293.5 638.1,293.9 638.6,294.4 639.0,294.7 639.3,295.0" fill="none" stroke="#5050ff" stroke-width="1.25" stroke-linejoin="round" stroke-linecap="round" />
<text x="542.6" y="21.1" font-size="12.2" text-anchor="start" font-weight="normal" fill="#333" textLength="24.4" lengthAdjust="spacingAndGlyphs" >40.22</text>
<line x1="539" y1="4.9" x2="545" y2="11" stroke="#333" stroke-width="0.8"/>
<text x="417.8" y="255.2" font-size="12.2" text-anchor="start" font-weight="normal" fill="#333" textLength="23.7" lengthAdjust="spacingAndGlyphs" >38.21</text>
<line x1="419.5" y1="257.8" x2="419.5" y2="263" stroke="#333" stroke-width="0.9"/>
<text x="458.4" y="271.8" font-size="12.2" text-anchor="start" font-weight="normal" fill="#333" textLength="23.2" lengthAdjust="spacingAndGlyphs" >39.07</text>
<text x="488.9" y="271.8" font-size="12.2" text-anchor="start" font-weight="normal" fill="#333" textLength="24.1" lengthAdjust="spacingAndGlyphs" >39.44</text>
<line x1="491.1" y1="274.7" x2="491.1" y2="280.3" stroke="#333" stroke-width="0.9"/>
<text x="98.6" y="24.2" font-size="20" text-anchor="start" font-weight="normal" fill="#111" textLength="244.5" lengthAdjust="spacingAndGlyphs" stroke="#111" stroke-width="0.3">CV on individual fragment ions</text>
<text x="98.6" y="49.2" font-size="20" text-anchor="start" font-weight="normal" fill="#111" textLength="82.5" lengthAdjust="spacingAndGlyphs" stroke="#111" stroke-width="0.3">y7 – 2.3 %</text>
<text x="98.6" y="73.3" font-size="20" text-anchor="start" font-weight="normal" fill="#111" textLength="79.3" lengthAdjust="spacingAndGlyphs" stroke="#111" stroke-width="0.3">y6 – 6.8%</text>
<text x="98.6" y="97.6" font-size="20" text-anchor="start" font-weight="normal" fill="#111" textLength="89.8" lengthAdjust="spacingAndGlyphs" stroke="#111" stroke-width="0.3">y8 – 12.2%</text>
<text x="582.3" y="65.2" font-size="20" text-anchor="start" font-weight="normal" fill="#111" textLength="124.3" lengthAdjust="spacingAndGlyphs" stroke="#111" stroke-width="0.3">CV on summed</text>
<text x="582.3" y="90.7" font-size="20" text-anchor="start" font-weight="normal" fill="#111" textLength="97.5" lengthAdjust="spacingAndGlyphs" stroke="#111" stroke-width="0.3">sum – 0.9 %</text>
<line x1="123.5" y1="764.1" x2="622.4" y2="764.1" stroke="#939393" stroke-width="1.35"/>
<line x1="123.5" y1="689.1" x2="622.4" y2="689.1" stroke="#939393" stroke-width="1.35"/>
<line x1="123.5" y1="614.2" x2="622.4" y2="614.2" stroke="#939393" stroke-width="1.35"/>
<line x1="123.5" y1="539.2" x2="622.4" y2="539.2" stroke="#939393" stroke-width="1.35"/>
<line x1="123.5" y1="464.3" x2="622.4" y2="464.3" stroke="#939393" stroke-width="1.35"/>
<line x1="123.5" y1="389.4" x2="622.4" y2="389.4" stroke="#939393" stroke-width="1.35"/>
<line x1="129.0" y1="389" x2="129.0" y2="769" stroke="#939393" stroke-width="1.35"/>
<line x1="622.4" y1="764" x2="622.4" y2="769" stroke="#939393" stroke-width="1.35"/>
<text transform="translate(110.9,764.0) rotate(-90)" font-size="13.5" text-anchor="middle" textLength="7.5" lengthAdjust="spacingAndGlyphs" fill="#222">0</text>
<text transform="translate(110.9,689.0) rotate(-90)" font-size="13.5" text-anchor="middle" textLength="7.5" lengthAdjust="spacingAndGlyphs" fill="#222">5</text>
<text transform="translate(110.9,614.1) rotate(-90)" font-size="13.5" text-anchor="middle" textLength="14.9" lengthAdjust="spacingAndGlyphs" fill="#222">10</text>
<text transform="translate(110.9,539.1) rotate(-90)" font-size="13.5" text-anchor="middle" textLength="14.9" lengthAdjust="spacingAndGlyphs" fill="#222">15</text>
<text transform="translate(110.9,464.2) rotate(-90)" font-size="13.5" text-anchor="middle" textLength="14.9" lengthAdjust="spacingAndGlyphs" fill="#222">20</text>
<text transform="translate(110.9,389.2) rotate(-90)" font-size="13.5" text-anchor="middle" textLength="14.9" lengthAdjust="spacingAndGlyphs" fill="#222">25</text>
<text transform="translate(95,576) rotate(-90)" font-size="16" font-weight="bold" text-anchor="middle" textLength="169" lengthAdjust="spacingAndGlyphs" fill="#111">Reproducibility (%CV)</text>
<text x="129.6" y="790" font-size="15" text-anchor="middle" font-weight="normal" fill="#222" textLength="14.6" lengthAdjust="spacingAndGlyphs" >10</text>
<text x="622.4" y="790" font-size="15" text-anchor="middle" font-weight="normal" fill="#222" textLength="37" lengthAdjust="spacingAndGlyphs" >10000</text>
<text x="393.5" y="792.7" font-size="15" text-anchor="middle" font-weight="bold" fill="#111" textLength="225.5" lengthAdjust="spacingAndGlyphs" >Protein Abundance (copies/cell)</text>
<circle cx="230.25" cy="602.9" r="5.05" fill="none" stroke="#5b8cc8" stroke-width="1.15"/>
<circle cx="230.3" cy="603.2" r="5.05" fill="none" stroke="#5b8cc8" stroke-width="1.15"/>
<circle cx="230" cy="621.3" r="5.05" fill="none" stroke="#5b8cc8" stroke-width="1.15"/>
<circle cx="230" cy="632.5" r="5.05" fill="none" stroke="#5b8cc8" stroke-width="1.15"/>
<circle cx="230" cy="633.75" r="5.05" fill="none" stroke="#5b8cc8" stroke-width="1.15"/>
<circle cx="230" cy="644.4" r="5.05" fill="none" stroke="#5b8cc8" stroke-width="1.15"/>
<circle cx="230.6" cy="670" r="5.05" fill="none" stroke="#5b8cc8" stroke-width="1.15"/>
<circle cx="230" cy="690" r="5.05" fill="none" stroke="#5b8cc8" stroke-width="1.15"/>
<circle cx="231" cy="688.75" r="5.05" fill="none" stroke="#5b8cc8" stroke-width="1.15"/>
<circle cx="230.25" cy="723" r="5.05" fill="none" stroke="#5b8cc8" stroke-width="1.15"/>
<circle cx="243.5" cy="555" r="5.05" fill="none" stroke="#5b8cc8" stroke-width="1.15"/>
<circle cx="241.5" cy="566.5" r="5.05" fill="none" stroke="#5b8cc8" stroke-width="1.15"/>
<circle cx="243.75" cy="571.9" r="5.05" fill="none" stroke="#5b8cc8" stroke-width="1.15"/>
<circle cx="240" cy="602.5" r="5.05" fill="none" stroke="#5b8cc8" stroke-width="1.15"/>
<circle cx="241.25" cy="605" r="5.05" fill="none" stroke="#5b8cc8" stroke-width="1.15"/>
<circle cx="241.9" cy="607.5" r="5.05" fill="none" stroke="#5b8cc8" stroke-width="1.15"/>
<circle cx="243.1" cy="609.4" r="5.05" fill="none" stroke="#5b8cc8" stroke-width="1.15"/>
<circle cx="244" cy="612.5" r="5.05" fill="none" stroke="#5b8cc8" stroke-width="1.15"/>
<circle cx="240.6" cy="615" r="5.05" fill="none" stroke="#5b8cc8" stroke-width="1.15"/>
<circle cx="241.9" cy="621.3" r="5.05" fill="none" stroke="#5b8cc8" stroke-width="1.15"/>
<circle cx="243" cy="625" r="5.05" fill="none" stroke="#5b8cc8" stroke-width="1.15"/>
<circle cx="243" cy="635" r="5.05" fill="none" stroke="#5b8cc8" stroke-width="1.15"/>
<circle cx="243.75" cy="637.5" r="5.05" fill="none" stroke="#5b8cc8" stroke-width="1.15"/>
<circle cx="241.9" cy="643.75" r="5.05" fill="none" stroke="#5b8cc8" stroke-width="1.15"/>
<circle cx="243.5" cy="658.75" r="5.05" fill="none" stroke="#5b8cc8" stroke-width="1.15"/>
<circle cx="243.5" cy="670" r="5.05" fill="none" stroke="#5b8cc8" stroke-width="1.15"/>
<circle cx="243.5" cy="685" r="5.05" fill="none" stroke="#5b8cc8" stroke-width="1.15"/>
<circle cx="243" cy="700" r="5.05" fill="none" stroke="#5b8cc8" stroke-width="1.15"/>
<circle cx="242.5" cy="705" r="5.05" fill="none" stroke="#5b8cc8" stroke-width="1.15"/>
<circle cx="242.75" cy="712.5" r="5.05" fill="none" stroke="#5b8cc8" stroke-width="1.15"/>
<circle cx="243.5" cy="713.75" r="5.05" fill="none" stroke="#5b8cc8" stroke-width="1.15"/>
<circle cx="243" cy="725" r="5.05" fill="none" stroke="#5b8cc8" stroke-width="1.15"/>
<circle cx="297.5" cy="542.5" r="5.05" fill="none" stroke="#5b8cc8" stroke-width="1.15"/>
<circle cx="297.5" cy="598" r="5.05" fill="none" stroke="#5b8cc8" stroke-width="1.15"/>
<circle cx="297.5" cy="622" r="5.05" fill="none" stroke="#5b8cc8" stroke-width="1.15"/>
<circle cx="297.5" cy="649.7" r="5.05" fill="none" stroke="#5b8cc8" stroke-width="1.15"/>
<circle cx="297.5" cy="689.4" r="5.05" fill="none" stroke="#5b8cc8" stroke-width="1.15"/>
<circle cx="297.5" cy="694" r="5.05" fill="none" stroke="#5b8cc8" stroke-width="1.15"/>
<circle cx="297.5" cy="700" r="5.05" fill="none" stroke="#5b8cc8" stroke-width="1.15"/>
<circle cx="297.5" cy="708" r="5.05" fill="none" stroke="#5b8cc8" stroke-width="1.15"/>
<circle cx="297.5" cy="712" r="5.05" fill="none" stroke="#5b8cc8" stroke-width="1.15"/>
<circle cx="388.5" cy="446.8" r="5.05" fill="none" stroke="#5b8cc8" stroke-width="1.15"/>
<circle cx="388.5" cy="655" r="5.05" fill="none" stroke="#5b8cc8" stroke-width="1.15"/>
<circle cx="388.5" cy="662.5" r="5.05" fill="none" stroke="#5b8cc8" stroke-width="1.15"/>
<circle cx="388.5" cy="696" r="5.05" fill="none" stroke="#5b8cc8" stroke-width="1.15"/>
<circle cx="388.5" cy="706" r="5.05" fill="none" stroke="#5b8cc8" stroke-width="1.15"/>
<circle cx="388.5" cy="710" r="5.05" fill="none" stroke="#5b8cc8" stroke-width="1.15"/>
<circle cx="388.5" cy="721" r="5.05" fill="none" stroke="#5b8cc8" stroke-width="1.15"/>
<circle cx="388.5" cy="734.5" r="5.05" fill="none" stroke="#5b8cc8" stroke-width="1.15"/>
<circle cx="412" cy="590.8" r="5.05" fill="none" stroke="#5b8cc8" stroke-width="1.15"/>
<circle cx="412" cy="606" r="5.05" fill="none" stroke="#5b8cc8" stroke-width="1.15"/>
<circle cx="411.3" cy="620.8" r="5.05" fill="none" stroke="#5b8cc8" stroke-width="1.15"/>
<circle cx="413.75" cy="661" r="5.05" fill="none" stroke="#5b8cc8" stroke-width="1.15"/>
<circle cx="413" cy="665" r="5.05" fill="none" stroke="#5b8cc8" stroke-width="1.15"/>
<circle cx="411.3" cy="674.5" r="5.05" fill="none" stroke="#5b8cc8" stroke-width="1.15"/>
<circle cx="412.5" cy="677.5" r="5.05" fill="none" stroke="#5b8cc8" stroke-width="1.15"/>
<circle cx="413.75" cy="680" r="5.05" fill="none" stroke="#5b8cc8" stroke-width="1.15"/>
<circle cx="411.3" cy="694.5" r="5.05" fill="none" stroke="#5b8cc8" stroke-width="1.15"/>
<circle cx="413.75" cy="702.5" r="5.05" fill="none" stroke="#5b8cc8" stroke-width="1.15"/>
<circle cx="412.5" cy="712.5" r="5.05" fill="none" stroke="#5b8cc8" stroke-width="1.15"/>
<circle cx="414.5" cy="719" r="5.05" fill="none" stroke="#5b8cc8" stroke-width="1.15"/>
<circle cx="413.75" cy="732.5" r="5.05" fill="none" stroke="#5b8cc8" stroke-width="1.15"/>
<circle cx="413.75" cy="740" r="5.05" fill="none" stroke="#5b8cc8" stroke-width="1.15"/>
<circle cx="412.5" cy="745" r="5.05" fill="none" stroke="#5b8cc8" stroke-width="1.15"/>
<circle cx="413" cy="750" r="5.05" fill="none" stroke="#5b8cc8" stroke-width="1.15"/>
<circle cx="452" cy="477.5" r="5.05" fill="none" stroke="#5b8cc8" stroke-width="1.15"/>
<circle cx="452" cy="546.8" r="5.05" fill="none" stroke="#5b8cc8" stroke-width="1.15"/>
<circle cx="452" cy="579.2" r="5.05" fill="none" stroke="#5b8cc8" stroke-width="1.15"/>
<circle cx="452" cy="619" r="5.05" fill="none" stroke="#5b8cc8" stroke-width="1.15"/>
<circle cx="452" cy="660" r="5.05" fill="none" stroke="#5b8cc8" stroke-width="1.15"/>
<circle cx="452" cy="662" r="5.05" fill="none" stroke="#5b8cc8" stroke-width="1.15"/>
<circle cx="452" cy="714" r="5.05" fill="none" stroke="#5b8cc8" stroke-width="1.15"/>
<circle cx="452" cy="731" r="5.05" fill="none" stroke="#5b8cc8" stroke-width="1.15"/>
<circle cx="502.5" cy="591" r="5.05" fill="none" stroke="#5b8cc8" stroke-width="1.15"/>
<circle cx="502.5" cy="617" r="5.05" fill="none" stroke="#5b8cc8" stroke-width="1.15"/>
<circle cx="502.5" cy="631.5" r="5.05" fill="none" stroke="#5b8cc8" stroke-width="1.15"/>
<circle cx="502.5" cy="636" r="5.05" fill="none" stroke="#5b8cc8" stroke-width="1.15"/>
<circle cx="502.5" cy="679.5" r="5.05" fill="none" stroke="#5b8cc8" stroke-width="1.15"/>
<circle cx="502.5" cy="682.5" r="5.05" fill="none" stroke="#5b8cc8" stroke-width="1.15"/>
<circle cx="502.5" cy="693" r="5.05" fill="none" stroke="#5b8cc8" stroke-width="1.15"/>
<circle cx="502.5" cy="702.6" r="5.05" fill="none" stroke="#5b8cc8" stroke-width="1.15"/>
<circle cx="502.5" cy="719.4" r="5.05" fill="none" stroke="#5b8cc8" stroke-width="1.15"/>
<circle cx="537" cy="568.5" r="5.05" fill="none" stroke="#5b8cc8" stroke-width="1.15"/>
<circle cx="537" cy="594" r="5.05" fill="none" stroke="#5b8cc8" stroke-width="1.15"/>
<circle cx="537" cy="620" r="5.05" fill="none" stroke="#5b8cc8" stroke-width="1.15"/>
<circle cx="537" cy="621.6" r="5.05" fill="none" stroke="#5b8cc8" stroke-width="1.15"/>
<circle cx="537" cy="628.5" r="5.05" fill="none" stroke="#5b8cc8" stroke-width="1.15"/>
<circle cx="537" cy="664" r="5.05" fill="none" stroke="#5b8cc8" stroke-width="1.15"/>
<circle cx="537" cy="686" r="5.05" fill="none" stroke="#5b8cc8" stroke-width="1.15"/>
<circle cx="537" cy="688" r="5.05" fill="none" stroke="#5b8cc8" stroke-width="1.15"/>
<circle cx="537" cy="689.5" r="5.05" fill="none" stroke="#5b8cc8" stroke-width="1.15"/>
<circle cx="585" cy="620" r="5.05" fill="none" stroke="#5b8cc8" stroke-width="1.15"/>
<circle cx="585" cy="620.5" r="5.05" fill="none" stroke="#5b8cc8" stroke-width="1.15"/>
<circle cx="585" cy="640" r="5.05" fill="none" stroke="#5b8cc8" stroke-width="1.15"/>
<circle cx="585" cy="642" r="5.05" fill="none" stroke="#5b8cc8" stroke-width="1.15"/>
<circle cx="585" cy="652.5" r="5.05" fill="none" stroke="#5b8cc8" stroke-width="1.15"/>
<circle cx="585" cy="663.6" r="5.05" fill="none" stroke="#5b8cc8" stroke-width="1.15"/>
<circle cx="585" cy="679.5" r="5.05" fill="none" stroke="#5b8cc8" stroke-width="1.15"/>
<circle cx="585" cy="696" r="5.05" fill="none" stroke="#5b8cc8" stroke-width="1.15"/>
<circle cx="585" cy="720.6" r="5.05" fill="none" stroke="#5b8cc8" stroke-width="1.15"/>
<circle cx="598" cy="568.5" r="5.05" fill="none" stroke="#5b8cc8" stroke-width="1.15"/>
<circle cx="598" cy="575" r="5.05" fill="none" stroke="#5b8cc8" stroke-width="1.15"/>
<circle cx="598" cy="596" r="5.05" fill="none" stroke="#5b8cc8" stroke-width="1.15"/>
<circle cx="598" cy="652.5" r="5.05" fill="none" stroke="#5b8cc8" stroke-width="1.15"/>
<circle cx="598" cy="657" r="5.05" fill="none" stroke="#5b8cc8" stroke-width="1.15"/>
<circle cx="598" cy="667" r="5.05" fill="none" stroke="#5b8cc8" stroke-width="1.15"/>
<circle cx="598" cy="687" r="5.05" fill="none" stroke="#5b8cc8" stroke-width="1.15"/>
<circle cx="598" cy="695" r="5.05" fill="none" stroke="#5b8cc8" stroke-width="1.15"/>
<circle cx="598" cy="734.4" r="5.05" fill="none" stroke="#5b8cc8" stroke-width="1.15"/>
<circle cx="614" cy="673" r="5.05" fill="none" stroke="#5b8cc8" stroke-width="1.15"/>
<circle cx="614" cy="680.4" r="5.05" fill="none" stroke="#5b8cc8" stroke-width="1.15"/>
<circle cx="614" cy="693" r="5.05" fill="none" stroke="#5b8cc8" stroke-width="1.15"/>
<circle cx="614" cy="699" r="5.05" fill="none" stroke="#5b8cc8" stroke-width="1.15"/>
<circle cx="614" cy="712.5" r="5.05" fill="none" stroke="#5b8cc8" stroke-width="1.15"/>
<circle cx="614" cy="723" r="5.05" fill="none" stroke="#5b8cc8" stroke-width="1.15"/>
<circle cx="614" cy="729.6" r="5.05" fill="none" stroke="#5b8cc8" stroke-width="1.15"/>
<circle cx="614" cy="753" r="5.05" fill="none" stroke="#5b8cc8" stroke-width="1.15"/>
<circle cx="229" cy="615.9" r="4.2" fill="none" stroke="#bf3236" stroke-width="2.05"/>
<circle cx="229" cy="638.1" r="4.2" fill="none" stroke="#bf3236" stroke-width="2.05"/>
<circle cx="229" cy="700" r="4.2" fill="none" stroke="#bf3236" stroke-width="2.05"/>
<ellipse cx="229" cy="763.1" rx="3.5" ry="4.35" fill="none" stroke="#bf3236" stroke-width="2.7"/>
<circle cx="238.5" cy="626.3" r="4.2" fill="none" stroke="#bf3236" stroke-width="2.05"/>
<circle cx="240" cy="631.9" r="4.2" fill="none" stroke="#bf3236" stroke-width="2.05"/>
<circle cx="241.9" cy="644" r="4.2" fill="none" stroke="#bf3236" stroke-width="2.05"/>
<circle cx="241.9" cy="659.4" r="4.2" fill="none" stroke="#bf3236" stroke-width="2.05"/>
<circle cx="240" cy="675.6" r="4.2" fill="none" stroke="#bf3236" stroke-width="2.05"/>
<circle cx="241.9" cy="677.5" r="4.2" fill="none" stroke="#bf3236" stroke-width="2.05"/>
<circle cx="240" cy="696.9" r="4.2" fill="none" stroke="#bf3236" stroke-width="2.05"/>
<circle cx="239.4" cy="700" r="4.2" fill="none" stroke="#bf3236" stroke-width="2.05"/>
<circle cx="242.25" cy="703.75" r="4.2" fill="none" stroke="#bf3236" stroke-width="2.05"/>
<circle cx="241.9" cy="725" r="4.2" fill="none" stroke="#bf3236" stroke-width="2.05"/>
<ellipse cx="238.3" cy="763.1" rx="3.5" ry="4.35" fill="none" stroke="#bf3236" stroke-width="2.7"/>
<ellipse cx="240.5" cy="763.1" rx="3.5" ry="4.35" fill="none" stroke="#bf3236" stroke-width="2.7"/>
<ellipse cx="242.7" cy="763.1" rx="3.5" ry="4.35" fill="none" stroke="#bf3236" stroke-width="2.7"/>
<circle cx="296.5" cy="675.3" r="4.2" fill="none" stroke="#bf3236" stroke-width="2.05"/>
<circle cx="296.5" cy="709.7" r="4.2" fill="none" stroke="#bf3236" stroke-width="2.05"/>
<circle cx="296.5" cy="714.4" r="4.2" fill="none" stroke="#bf3236" stroke-width="2.05"/>
<ellipse cx="296.5" cy="763.1" rx="3.5" ry="4.35" fill="none" stroke="#bf3236" stroke-width="2.7"/>
<circle cx="387" cy="668.5" r="4.2" fill="none" stroke="#bf3236" stroke-width="2.05"/>
<circle cx="387" cy="702.5" r="4.2" fill="none" stroke="#bf3236" stroke-width="2.05"/>
<circle cx="387" cy="710" r="4.2" fill="none" stroke="#bf3236" stroke-width="2.05"/>
<ellipse cx="387" cy="763.1" rx="3.5" ry="4.35" fill="none" stroke="#bf3236" stroke-width="2.7"/>
<circle cx="412.5" cy="666.5" r="4.2" fill="none" stroke="#bf3236" stroke-width="2.05"/>
<circle cx="410.5" cy="711.25" r="4.2" fill="none" stroke="#bf3236" stroke-width="2.05"/>
<circle cx="413" cy="712" r="4.2" fill="none" stroke="#bf3236" stroke-width="2.05"/>
<circle cx="410.5" cy="731.25" r="4.2" fill="none" stroke="#bf3236" stroke-width="2.05"/>
<circle cx="410" cy="737.5" r="4.2" fill="none" stroke="#bf3236" stroke-width="2.05"/>
<circle cx="412.5" cy="750" r="4.2" fill="none" stroke="#bf3236" stroke-width="2.05"/>
<ellipse cx="410.6" cy="763.1" rx="3.5" ry="4.35" fill="none" stroke="#bf3236" stroke-width="2.7"/>
<ellipse cx="413" cy="763.1" rx="3.5" ry="4.35" fill="none" stroke="#bf3236" stroke-width="2.7"/>
<circle cx="451" cy="589.5" r="4.2" fill="none" stroke="#bf3236" stroke-width="2.05"/>
<circle cx="451" cy="672" r="4.2" fill="none" stroke="#bf3236" stroke-width="2.05"/>
<circle cx="451" cy="715" r="4.2" fill="none" stroke="#bf3236" stroke-width="2.05"/>
<ellipse cx="451" cy="763.1" rx="3.5" ry="4.35" fill="none" stroke="#bf3236" stroke-width="2.7"/>
<circle cx="501.5" cy="631.5" r="4.2" fill="none" stroke="#bf3236" stroke-width="2.05"/>
<circle cx="501.5" cy="664" r="4.2" fill="none" stroke="#bf3236" stroke-width="2.05"/>
<circle cx="501.5" cy="713.4" r="4.2" fill="none" stroke="#bf3236" stroke-width="2.05"/>
<ellipse cx="501.5" cy="763.1" rx="3.5" ry="4.35" fill="none" stroke="#bf3236" stroke-width="2.7"/>
<circle cx="536" cy="610.5" r="4.2" fill="none" stroke="#bf3236" stroke-width="2.05"/>
<circle cx="536" cy="629" r="4.2" fill="none" stroke="#bf3236" stroke-width="2.05"/>
<circle cx="536" cy="685" r="4.2" fill="none" stroke="#bf3236" stroke-width="2.05"/>
<ellipse cx="536" cy="763.1" rx="3.5" ry="4.35" fill="none" stroke="#bf3236" stroke-width="2.7"/>
<circle cx="584" cy="672" r="4.2" fill="none" stroke="#bf3236" stroke-width="2.05"/>
<circle cx="584" cy="677.4" r="4.2" fill="none" stroke="#bf3236" stroke-width="2.05"/>
<ellipse cx="584" cy="763.1" rx="3.5" ry="4.35" fill="none" stroke="#bf3236" stroke-width="2.7"/>
<circle cx="597" cy="599" r="4.2" fill="none" stroke="#bf3236" stroke-width="2.05"/>
<circle cx="597" cy="645.6" r="4.2" fill="none" stroke="#bf3236" stroke-width="2.05"/>
<circle cx="597" cy="704.7" r="4.2" fill="none" stroke="#bf3236" stroke-width="2.05"/>
<ellipse cx="597" cy="763.1" rx="3.5" ry="4.35" fill="none" stroke="#bf3236" stroke-width="2.7"/>
<circle cx="613" cy="687" r="4.2" fill="none" stroke="#bf3236" stroke-width="2.05"/>
<circle cx="613" cy="702" r="4.2" fill="none" stroke="#bf3236" stroke-width="2.05"/>
<circle cx="613" cy="737" r="4.2" fill="none" stroke="#bf3236" stroke-width="2.05"/>
<ellipse cx="613" cy="763.1" rx="3.5" ry="4.35" fill="none" stroke="#bf3236" stroke-width="2.7"/>
<ellipse cx="462.7" cy="404.2" rx="4.4" ry="5.0" fill="none" stroke="#5b8cc8" stroke-width="1.1"/>
<text x="470.6" y="408.4" font-size="12.7" text-anchor="start" font-weight="normal" fill="#222" textLength="117.5" lengthAdjust="spacingAndGlyphs" >High Resolution XIC</text>
<ellipse cx="462.7" cy="444.5" rx="4.2" ry="4.6" fill="none" stroke="#bf3236" stroke-width="1.9"/>
<text x="470.6" y="448.5" font-size="12.7" text-anchor="start" font-weight="normal" fill="#222" textLength="182" lengthAdjust="spacingAndGlyphs" >Summed High Resolution XICx</text>
</svg>
</body></html>
